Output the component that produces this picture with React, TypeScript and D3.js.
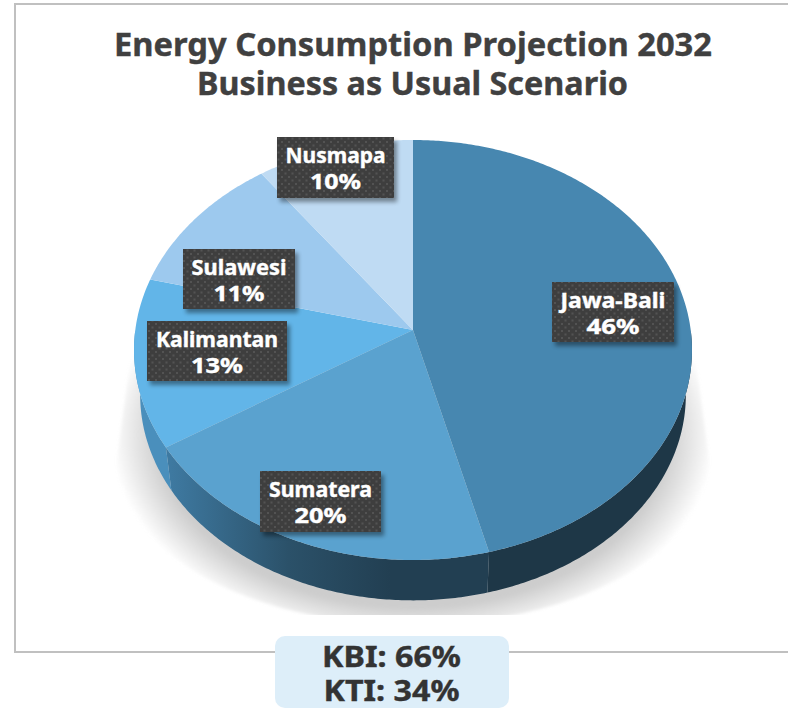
import React from 'react';
import * as d3 from 'd3';

const regions = ['Jawa-Bali', 'Sumatera', 'Kalimantan', 'Sulawesi', 'Nusmapa'];
const shares = [46, 20, 13, 11, 10];
const topColors = ['#4787b0', '#5aa2cf', '#62b5e8', '#9dc9ee', '#bfdbf3'];
const rimColors = ['#1e3747', 'url(#rimSumatera)', '#4a8fbc', '#4a8fbc', '#4a8fbc'];
const titleLines = ['Energy Consumption Projection 2032', 'Business as Usual Scenario'];
const groupNames = ['KBI', 'KTI'];
const groupShares = [66, 34];

// label boxes as they sit in the picture: left, top, right, bottom, width of both text lines
const labelBoxes = [
  [552, 282, 674, 342, 105, 53],
  [260, 471, 381, 532, 103, 52],
  [147, 321, 287, 381, 122, 52],
  [183, 249, 295, 309, 95, 51],
  [277, 137, 394, 198, 100, 51],
];

const width = 788;
const height = 708;
const centerX = 413;
const apexY = 330;

// tilted circle: unit disc to screen, the apex sits above the middle of the ellipse
const tilt = -0.0952;
const scaleX = 277.7;
const scaleY = 208.1;
const ellipseMidY = 350;
const rimScale = 0.978;
const rimDrop = 45;

function project(angle: number): [number, number] {
  const ux = Math.sin(angle);
  const uy = -Math.cos(angle);
  const w = 1 + tilt * uy;
  return [centerX + (ux * scaleX) / w, apexY + (uy * scaleY) / w];
}

function projectRim(angle: number): [number, number] {
  const [x, y] = project(angle);
  return [centerX + (x - centerX) * rimScale, ellipseMidY + (y - ellipseMidY) * rimScale + rimDrop];
}

function sweep(start: number, end: number) {
  return [...d3.range(start, end, 0.01), end];
}

const line = d3.line();
const pieSlices = d3.pie<number>().sort(null)(shares);

const topPath = (s: d3.PieArcDatum<number>) =>
  line([[centerX, apexY], ...sweep(s.startAngle, s.endAngle).map(project)])! + 'Z';

// only the front of the rim can be seen
const rimPath = (s: d3.PieArcDatum<number>) => {
  const a = sweep(Math.max(s.startAngle, Math.PI / 2), Math.min(s.endAngle, (3 * Math.PI) / 2));
  return line([...a.map(project), ...a.slice().reverse().map(projectRim)])! + 'Z';
};

// cast shadow: lower half of a wider ellipse, running up to the pie's widest points
const shadowArc = sweep(Math.PI / 2, (3 * Math.PI) / 2).map((a): [number, number] => [
  centerX + Math.sin(a) * 296,
  460 - Math.cos(a) * 165,
]);
const shadowPath = line([[692, 330], ...shadowArc, [134, 330]])! + 'Z';

function FitText({x, y, w, size, fill, children}: {x: number, y: number, w: number, size: number, fill: string, children: React.ReactNode}) {
  return (
    <text x={x} y={y} textAnchor="middle" fontFamily="'Noto Sans', sans-serif" fontWeight="bold"
      fontSize={size} fill={fill} stroke={fill} strokeWidth={0.4} textLength={w} lengthAdjust="spacingAndGlyphs">
      {children}
    </text>
  );
}

export default function App() {
  return (
    <svg width={width} height={height} style={{position: 'absolute', left: 0, top: 0}}>
      <defs>
        <filter id="shadowBlur" x="-10%" y="-10%" width="120%" height="120%">
          <feGaussianBlur stdDeviation="1.5" />
        </filter>
        <filter id="boxShadow" x="-20%" y="-20%" width="140%" height="140%">
          <feGaussianBlur stdDeviation="2" />
        </filter>
        <clipPath id="shadowClip">
          <rect x={0} y={0} width={width} height={615} />
        </clipPath>
        <radialGradient id="shadowFade" gradientUnits="userSpaceOnUse" cx={0} cy={0} r={1}
          gradientTransform="translate(413,435) scale(302,205)">
          <stop offset="0.84" stopColor="#cdcdcd" />
          <stop offset="1" stopColor="#cdcdcd" stopOpacity={0} />
        </radialGradient>
        <linearGradient id="rimSumatera" gradientUnits="userSpaceOnUse" x1={165} y1={0} x2={390} y2={0}>
          <stop offset="0" stopColor="#3f7ba3" />
          <stop offset="0.55" stopColor="#2b5169" />
          <stop offset="1" stopColor="#223f52" />
        </linearGradient>
        <pattern id="dots" patternUnits="userSpaceOnUse" width={7} height={7}>
          <rect width={7} height={7} fill="#3e3e3e" />
          <rect x={1} y={1} width={2} height={2} fill="#535353" />
          <rect x={4.5} y={4.5} width={2} height={2} fill="#535353" />
        </pattern>
      </defs>

      <rect x={15} y={4} width={width} height={648} fill="#fff" stroke="#c0c0c0" strokeWidth={2} />

      {titleLines.map((t, i) => (
        <FitText key={t} x={i === 0 ? 413 : 412.5} y={i === 0 ? 56 : 95} w={i === 0 ? 598 : 431} size={33} fill="#404040">{t}</FitText>
      ))}

      <g clipPath="url(#shadowClip)">
        <path d={shadowPath} fill="url(#shadowFade)" filter="url(#shadowBlur)" />
      </g>

      {pieSlices.slice(0, 3).map((s, i) => (
        <path key={regions[i]} d={rimPath(s)} fill={rimColors[i]} />
      ))}
      {pieSlices.map((s, i) => (
        <path key={regions[i]} d={topPath(s)} fill={topColors[i]} />
      ))}

      {regions.map((name, i) => {
        const [x0, y0, x1, y1, nameW, pctW] = labelBoxes[i];
        const mid = (x0 + x1) / 2;
        return (
          <g key={name}>
            <rect x={x0 + 3} y={y0 + 4} width={x1 - x0} height={y1 - y0} fill="#000" opacity={0.4} filter="url(#boxShadow)" />
            <rect x={x0} y={y0} width={x1 - x0} height={y1 - y0} fill="url(#dots)" />
            <FitText x={mid} y={y0 + 26} w={nameW} size={21} fill="#fff">{name}</FitText>
            <FitText x={mid} y={y0 + 52} w={pctW} size={21} fill="#fff">{shares[i]}%</FitText>
          </g>
        );
      })}

      <rect x={275} y={636} width={234} height={72} rx={10} fill="#ddeef9" />
      {groupNames.map((g, i) => (
        <FitText key={g} x={391.5} y={667 + i * 34} w={i === 0 ? 139 : 136} size={29} fill="#333">{g}: {groupShares[i]}%</FitText>
      ))}
    </svg>
  );
}
